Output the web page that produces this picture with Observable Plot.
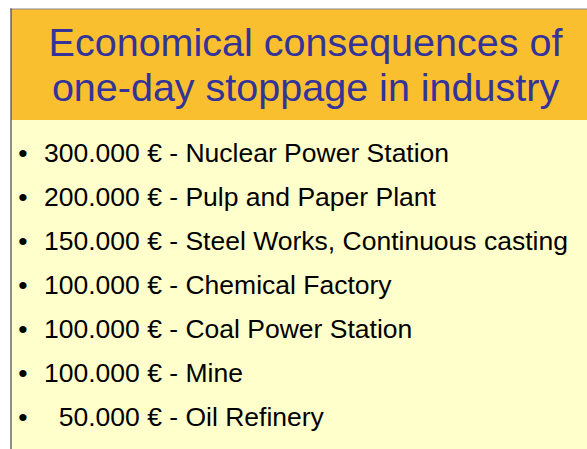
<!DOCTYPE html>
<html>
<head>
<meta charset="utf-8">
<script src="https://cdn.jsdelivr.net/npm/d3@7"></script>
<script src="https://cdn.jsdelivr.net/npm/@observablehq/plot@0.6"></script>
<style>
  html, body { margin: 0; padding: 0; background: #ffffff; }
  #chart svg { display: block; }
</style>
</head>
<body>
<div id="chart"></div>
<script>
// ---- data ----
const titleLines = ["Economical consequences of", "one-day stoppage in industry"];
const amounts = [300000, 200000, 150000, 100000, 100000, 100000, 50000];
const industries = [
  "Nuclear Power Station",
  "Pulp and Paper Plant",
  "Steel Works, Continuous casting",
  "Chemical Factory",
  "Coal Power Station",
  "Mine",
  "Oil Refinery"
];

// ---- layout ----
const W = 587, H = 449;
const maxDigits = d3.max(amounts, a => String(a).length);
const fmt = a => {
  const s = d3.format(",")(a).replace(/,/g, ".");
  const pad = maxDigits - String(a).length;
  return "\u2007".repeat(pad) + s;
};
const rows = amounts.map((a, i) => ({
  i,
  label: `${fmt(a)} € - ${industries[i]}`
}));
const titleRows = titleLines.map((t, i) => ({i, t}));

const chart = Plot.plot({
  width: W,
  height: H,
  margin: 0,
  style: {background: "#ffffff"},
  x: {type: "linear", domain: [0, W], range: [0, W], axis: null},
  y: {type: "linear", domain: [0, H], range: [0, H], axis: null},
  marks: [
    Plot.rect([0], {x1: 11, x2: W, y1: 9, y2: 120, fill: "#FABF2F"}),
    Plot.rect([0], {x1: 11, x2: W, y1: 120, y2: H, fill: "#FFFFCC"}),
    Plot.ruleY([8.5], {x1: 10, x2: W, stroke: "#8a8a8a", strokeWidth: 1.2}),
    Plot.ruleX([10.5], {y1: 8.5, y2: H, stroke: "#444", strokeWidth: 1.2}),
    Plot.text(titleRows, {
      x: 305,
      y: d => 42.4 + d.i * 45,
      text: "t",
      fill: "#333399",
      fontSize: 39.5,
      fontFamily: "Liberation Sans, Arial, sans-serif",
      textAnchor: "middle"
    }),
    Plot.text(rows, {
      x: 22.5,
      y: d => 153.5 + d.i * 44,
      text: () => "•",
      fill: "#000",
      fontSize: 26.5,
      fontFamily: "Liberation Sans, Arial, sans-serif",
      textAnchor: "middle"
    }),
    Plot.text(rows, {
      x: 43.5,
      y: d => 153.5 + d.i * 44,
      text: "label",
      fill: "#000",
      fontSize: 26.5,
      fontFamily: "Liberation Sans, Arial, sans-serif",
      textAnchor: "start"
    })
  ]
});
document.getElementById("chart").appendChild(chart);
</script>
</body>
</html>
